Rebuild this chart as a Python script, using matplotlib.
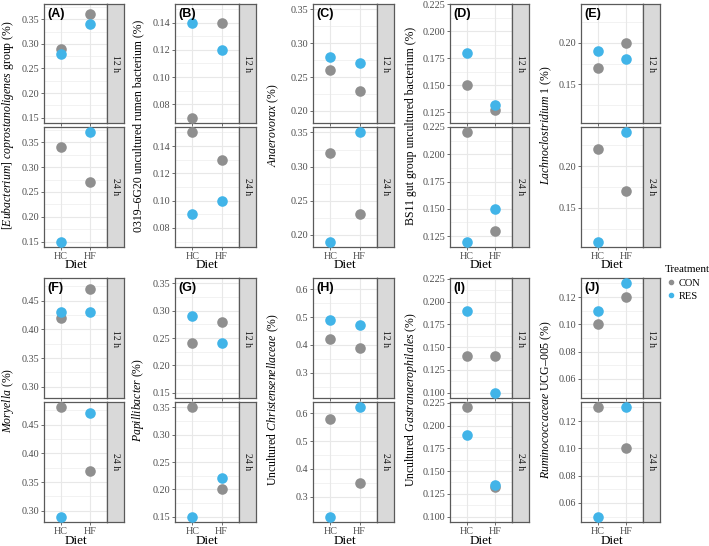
import numpy as np
import matplotlib
matplotlib.use('Agg')
import matplotlib.pyplot as plt
from matplotlib.lines import Line2D

plt.rcParams['font.family'] = 'Liberation Serif'
plt.rcParams['mathtext.fontset'] = 'custom'
plt.rcParams['mathtext.rm'] = 'Liberation Serif'
plt.rcParams['mathtext.it'] = 'Liberation Serif:italic'

# data: [HC, HF] per panel
diets = ['HC', 'HF']
times = ['12 h', '24 h']
panel_tags = ['(A)', '(B)', '(C)', '(D)', '(E)', '(F)', '(G)', '(H)', '(I)', '(J)']
ylabels = [
    r'$[\mathit{Eubacterium}]\ \mathit{coprostanoligenes}$ group (%)',
    '0319\u20136G20 uncultured rumen bacterium (%)',
    r'$\mathit{Anaerovorax}$ (%)',
    'BS11 gut group uncultured bacterium (%)',
    r'$\mathit{Lachnoclostridium}$ 1 (%)',
    r'$\mathit{Moryella}$ (%)',
    r'$\mathit{Papillibacter}$ (%)',
    r'Uncultured $\mathit{Christensenellaceae}$ (%)',
    r'Uncultured $\mathit{Gastranaerophilales}$ (%)',
    r'$\mathit{Ruminococcaceae}$ UCG' + '\u2013005 (%)',
]
con_12h = [[0.29, 0.36], [0.07, 0.14], [0.26, 0.23], [0.15, 0.127], [0.17, 0.20],
           [0.42, 0.47], [0.24, 0.28], [0.42, 0.39], [0.14, 0.14], [0.10, 0.12]]
res_12h = [[0.28, 0.34], [0.14, 0.12], [0.28, 0.27], [0.18, 0.132], [0.19, 0.18],
           [0.43, 0.43], [0.29, 0.24], [0.49, 0.47], [0.19, 0.10], [0.11, 0.13]]
con_24h = [[0.34, 0.27], [0.15, 0.13], [0.32, 0.23], [0.22, 0.13], [0.22, 0.17],
           [0.48, 0.37], [0.35, 0.20], [0.58, 0.35], [0.22, 0.132], [0.13, 0.10]]
res_24h = [[0.15, 0.37], [0.09, 0.10], [0.19, 0.35], [0.12, 0.15], [0.11, 0.24],
           [0.29, 0.47], [0.15, 0.22], [0.23, 0.62], [0.19, 0.135], [0.05, 0.13]]
ytick_labels = [
    ['0.15', '0.20', '0.25', '0.30', '0.35'],
    ['0.08', '0.10', '0.12', '0.14'],
    ['0.20', '0.25', '0.30', '0.35'],
    ['0.125', '0.150', '0.175', '0.200', '0.225'],
    ['0.15', '0.20'],
    ['0.30', '0.35', '0.40', '0.45'],
    ['0.15', '0.20', '0.25', '0.30', '0.35'],
    ['0.3', '0.4', '0.5', '0.6'],
    ['0.100', '0.125', '0.150', '0.175', '0.200', '0.225'],
    ['0.06', '0.08', '0.10', '0.12'],
]

CON_COL = '#8f8f8f'
RES_COL = '#41b4e8'
BORDER = '#5a5a5a'
GRID = '#e8e8e8'

W, H = 709, 546
fig = plt.figure(figsize=(W / 100, H / 100), dpi=100)

col_left = [44, 175, 313, 450, 581]
col_right = [107, 239, 377, 512, 643]
ylab_x = [8, 138, 273, 411, 546]
rows = [[(4, 123), (127, 247)], [(278, 398), (402, 522)]]
strip_w = 17


def px_axes(x0, x1, y0, y1):
    return fig.add_axes([x0 / W, 1 - y1 / H, (x1 - x0) / W, (y1 - y0) / H])


for p in range(10):
    r, c = divmod(p, 5)
    facets = [(con_12h[p], res_12h[p]), (con_24h[p], res_24h[p])]
    allv = con_12h[p] + res_12h[p] + con_24h[p] + res_24h[p]
    lo, hi = min(allv), max(allv)
    pad = (hi - lo) * 0.05
    ylim = (lo - pad, hi + pad)
    ticks = [float(t) for t in ytick_labels[p]]
    step = ticks[1] - ticks[0]
    minor = np.arange(ticks[0] - step / 2, ticks[-1] + step, step)
    minor = [m for m in minor if ylim[0] <= m <= ylim[1]]

    for f, (con, res) in enumerate(facets):
        y0, y1 = rows[r][f]
        ax = px_axes(col_left[c], col_right[c], y0, y1)
        ax.set_xlim(0.4, 2.6)
        ax.set_ylim(*ylim)
        for m in minor:
            ax.axhline(m, color=GRID, lw=0.4, zorder=0)
        for t in ticks:
            ax.axhline(t, color=GRID, lw=0.8, zorder=0)
        for xx in [1, 2]:
            ax.axvline(xx, color=GRID, lw=0.8, zorder=0)
        ax.scatter([1, 2], con, s=58, color=CON_COL, zorder=3, linewidths=0)
        ax.scatter([1, 2], res, s=58, color=RES_COL, zorder=3, linewidths=0)
        ax.set_yticks(ticks)
        ax.set_yticklabels(ytick_labels[p], fontsize=7.3, color='#4d4d4d')
        ax.set_xticks([1, 2])
        if f == 1:
            ax.set_xticklabels(diets, fontsize=7.3, color='#4d4d4d')
        else:
            ax.set_xticklabels([])
        ax.tick_params(length=2, width=0.5, color='#333333', pad=1.5)
        for s in ax.spines.values():
            s.set_color(BORDER)
            s.set_linewidth(0.9)
        if f == 0:
            ax.text(0.05, 0.97, panel_tags[p], transform=ax.transAxes, va='top', ha='left',
                    fontsize=9, fontweight='bold', family='Liberation Sans')

        # facet strip
        sax = px_axes(col_right[c], col_right[c] + strip_w, y0, y1)
        sax.set_facecolor('#d9d9d9')
        sax.set_xticks([])
        sax.set_yticks([])
        for s in sax.spines.values():
            s.set_color(BORDER)
            s.set_linewidth(0.9)
        sax.text(0.5, 0.5, times[f], rotation=-90, ha='center', va='center',
                 fontsize=7, color='#1a1a1a', transform=sax.transAxes)

    ytop = rows[r][0][0]
    ybot = rows[r][1][1]
    fig.text(ylab_x[c] / W, 1 - (ytop + ybot) / 2 / H, ylabels[p], rotation=90,
             ha='center', va='center', fontsize=8.5)
    fig.text((col_left[c] + col_right[c]) / 2 / W, 1 - (ybot + 18.5) / H, 'Diet',
             ha='center', va='center', fontsize=9.5)

handles = [Line2D([], [], marker='o', ls='', color=CON_COL, markersize=3),
           Line2D([], [], marker='o', ls='', color=RES_COL, markersize=3)]
leg = fig.legend(handles, ['CON', 'RES'], title='Treatment', loc='upper left',
                 bbox_to_anchor=(660 / W, 1 - 260 / H), frameon=False, fontsize=7.5,
                 title_fontsize=8, handletextpad=0.1, labelspacing=0.4,
                 borderpad=0, handlelength=1.2)
leg._legend_box.align = 'left'

fig.savefig('out.png', dpi=100)
